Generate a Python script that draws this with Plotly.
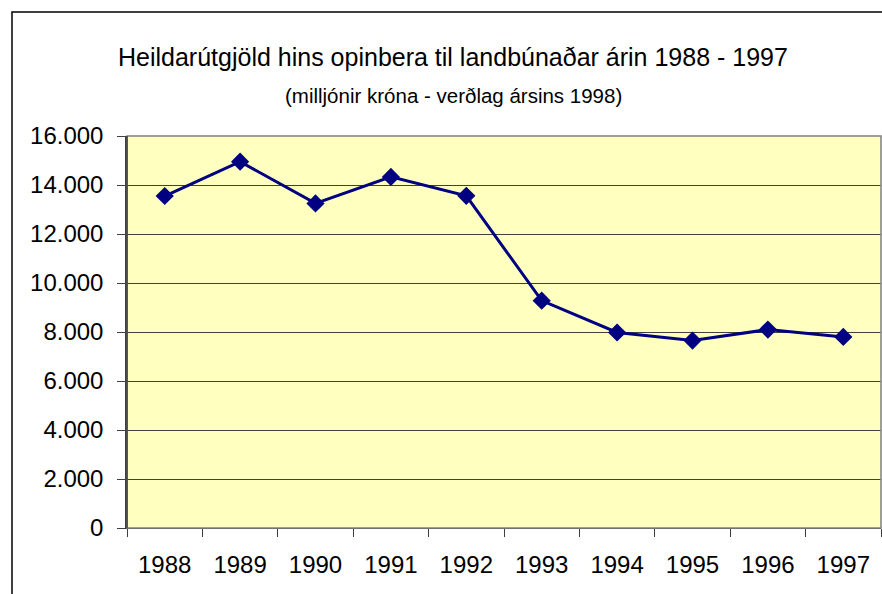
import plotly.graph_objects as go

years = ["1988", "1989", "1990", "1991", "1992", "1993", "1994", "1995", "1996", "1997"]
expenditure = [13550, 14950, 13250, 14330, 13560, 9280, 7980, 7650, 8100, 7800]
y_ticks = [0, 2000, 4000, 6000, 8000, 10000, 12000, 14000, 16000]

W, H = 882, 594
L, R, T, B = 127, 1, 136, 66
pw, ph = W - L - R, H - T - B

def px_x(p):
    return (p - L) / pw

def px_y(p):
    return (H - B - p) / ph

fig = go.Figure()
fig.add_trace(go.Scatter(
    x=years, y=expenditure, mode="lines+markers",
    line=dict(color="#000080", width=3),
    marker=dict(symbol="diamond", size=14, color="#000080"),
    showlegend=False,
))

fig.update_layout(
    width=W, height=H,
    margin=dict(l=L, r=R, t=T, b=B),
    paper_bgcolor="white",
    plot_bgcolor="#FFFFC0",
    separators=",.",
    font=dict(family="Liberation Sans, Arial", color="black"),
    xaxis=dict(
        type="category", tickson="boundaries", ticks="outside", ticklen=8,
        tickcolor="#404040", showgrid=False, showline=True, linecolor="#404040",
        tickfont=dict(size=24), range=[-0.5, 9.5], ticklabelstandoff=15,
        mirror=False,
    ),
    yaxis=dict(
        range=[0, 16000], tickvals=y_ticks, tickformat=",.0f",
        ticks="outside", ticklen=8, tickcolor="#404040",
        showgrid=True, gridcolor="#404040", gridwidth=1,
        showline=True, linecolor="#404040", linewidth=1.5,
        tickfont=dict(size=24), ticklabelstandoff=9, zeroline=False,
    ),
    shapes=[
        dict(type="rect", xref="paper", yref="paper", x0=0, x1=1, y0=0, y1=1,
             line=dict(color="#808080", width=1.5), layer="above"),
        dict(type="line", xref="paper", yref="paper", x0=0, x1=0, y0=0, y1=1,
             line=dict(color="#404040", width=1.5), layer="above"),
        dict(type="rect", xref="paper", yref="paper",
             x0=px_x(12), x1=px_x(900), y0=px_y(12), y1=px_y(620),
             line=dict(color="black", width=1.5), layer="above"),
    ],
    annotations=[
        dict(text="Heildarútgjöld hins opinbera til landbúnaðar árin 1988 - 1997",
             xref="paper", yref="paper", x=px_x(453), y=px_y(57),
             xanchor="center", yanchor="middle", showarrow=False,
             font=dict(size=25)),
        dict(text="(milljónir króna - verðlag ársins 1998)",
             xref="paper", yref="paper", x=px_x(453), y=px_y(95),
             xanchor="center", yanchor="middle", showarrow=False,
             font=dict(size=20.5)),
    ],
)

fig.write_html(
    "out.html",
    config={"displayModeBar": False},
    post_script="document.body.style.margin='0';document.body.style.overflow='hidden';",
)
